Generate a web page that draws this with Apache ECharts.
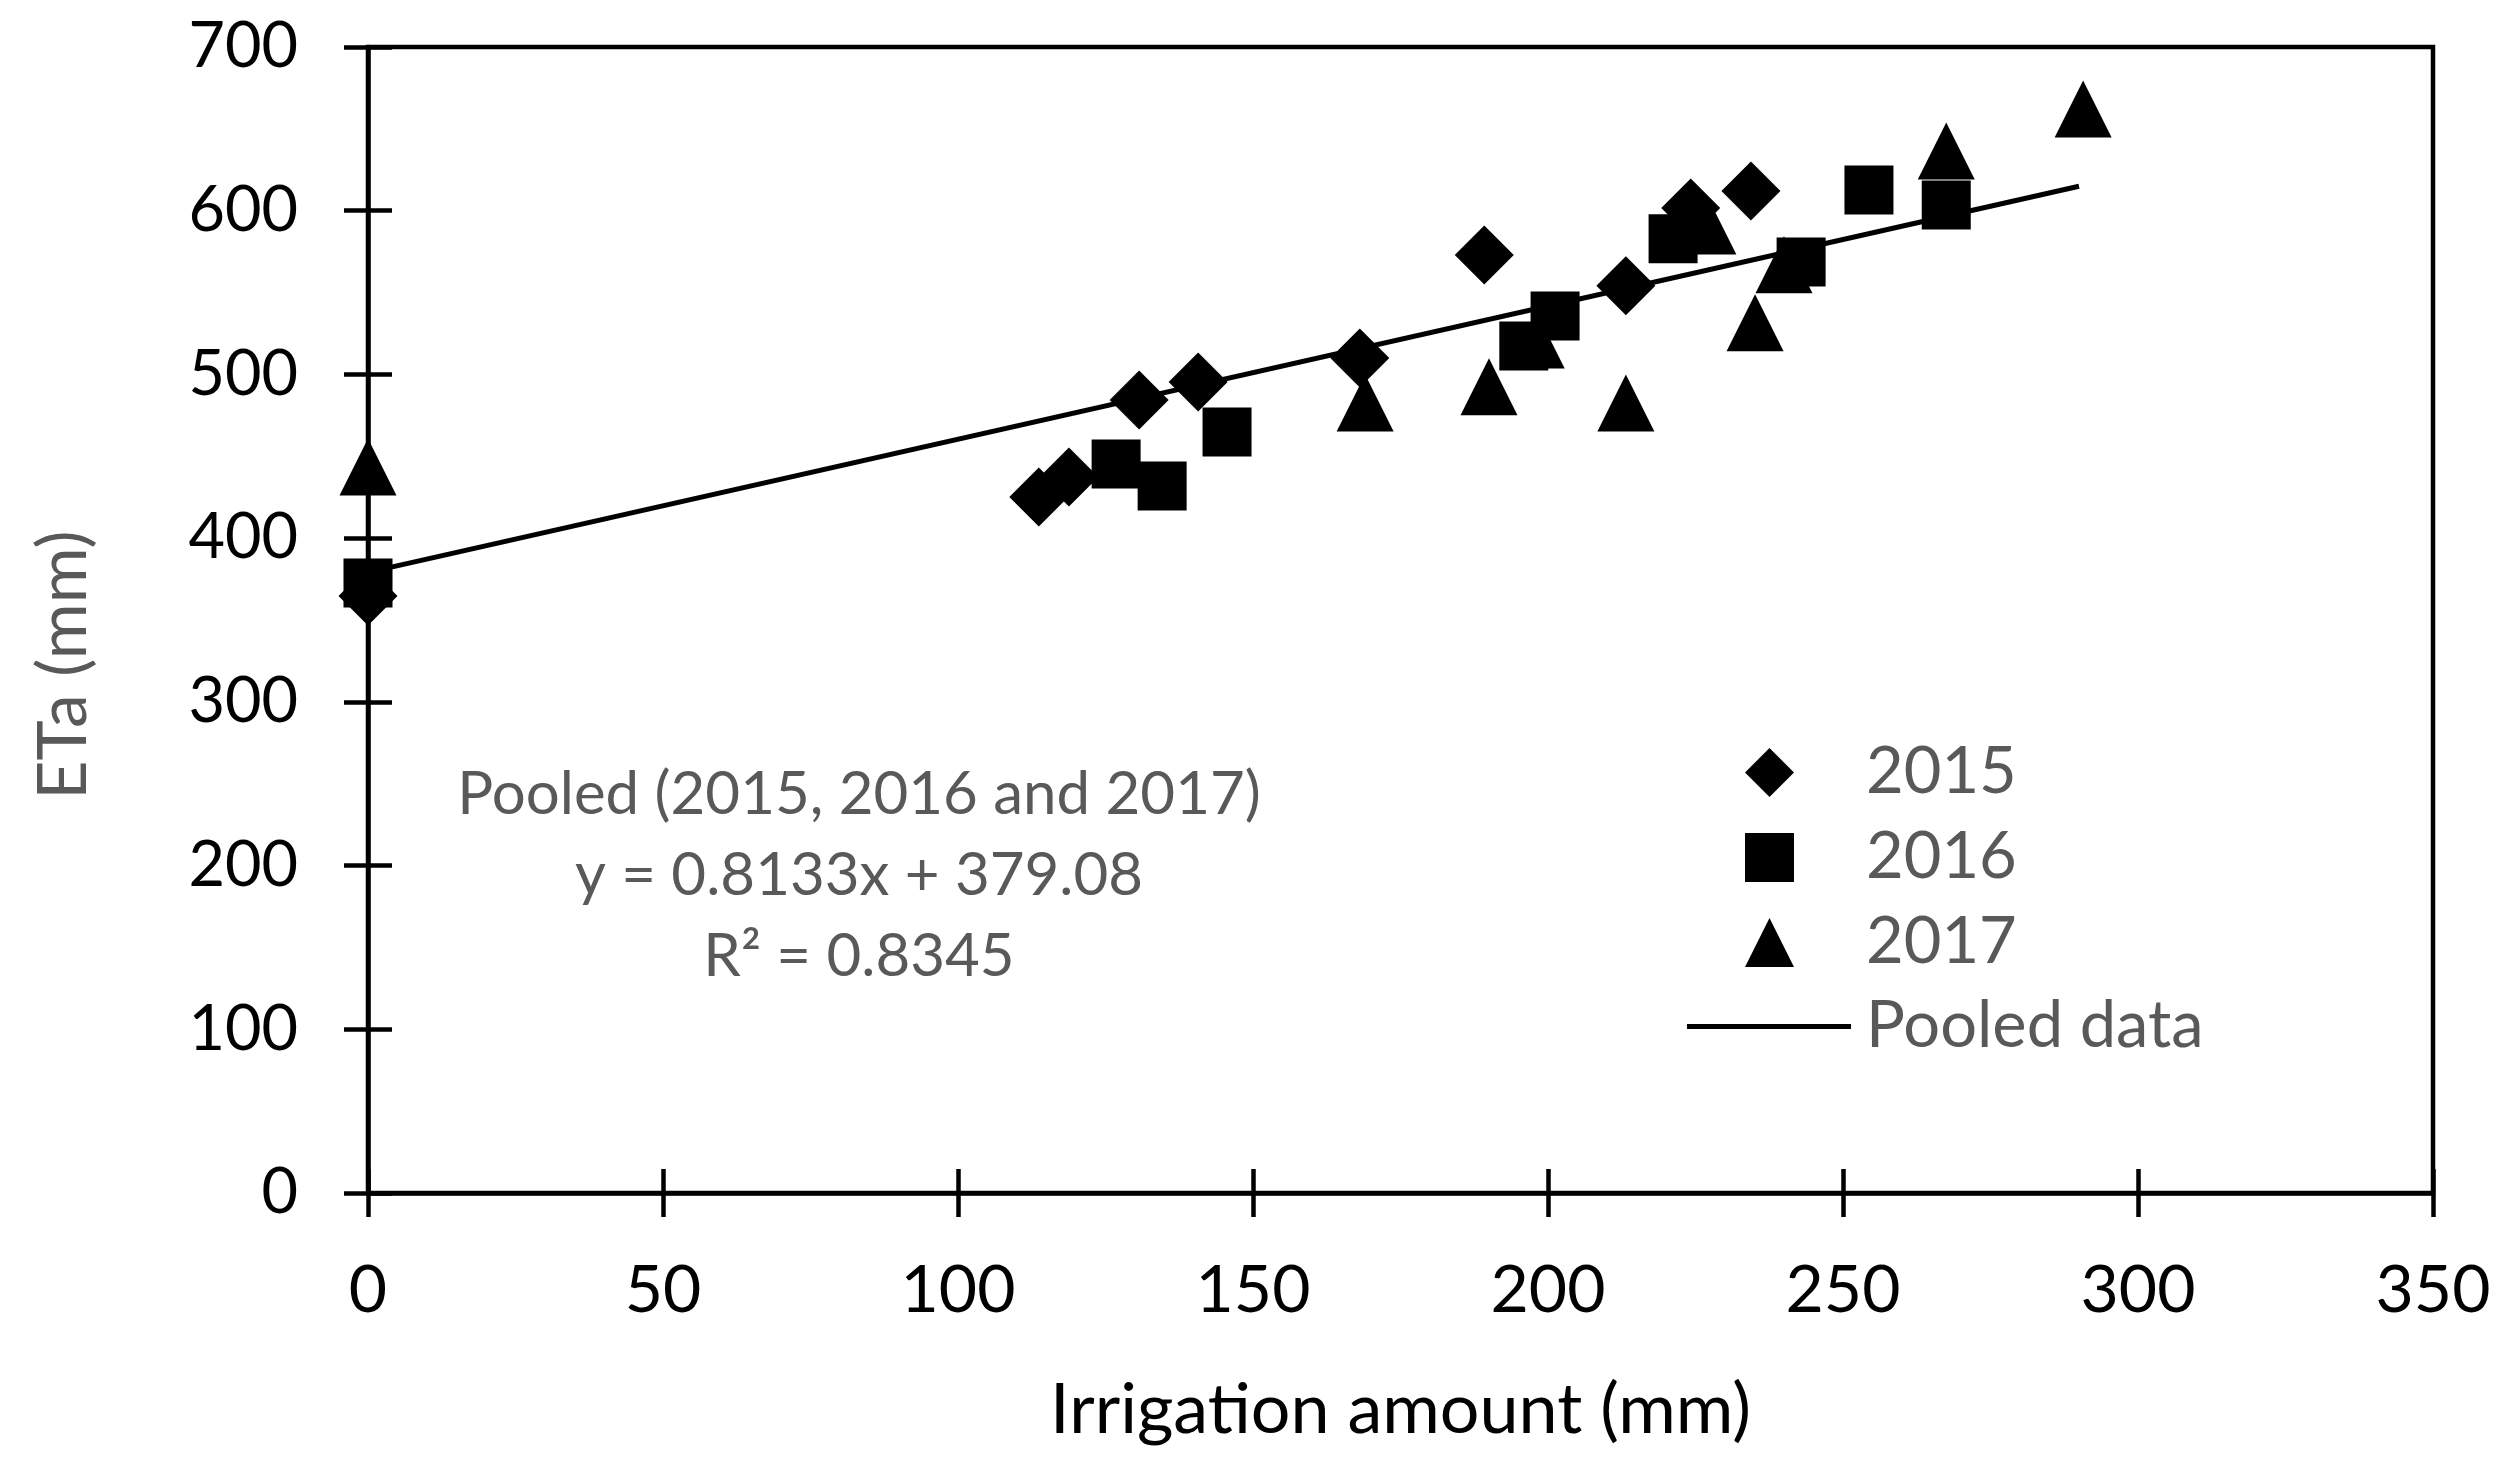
<!DOCTYPE html>
<html>
<head>
<meta charset="utf-8">
<title>ETa vs irrigation amount</title>
<script src="https://cdn.jsdelivr.net/npm/echarts@6/dist/echarts.min.js"></script>
<style>
  html, body { margin: 0; padding: 0; background: #fff; }
  #chart { width: 2520px; height: 1466px; }
</style>
</head>
<body>
<div id="chart"></div>
<script>
"use strict";

// irrigation amount (mm) and ETa (mm)
var irr2015 = [0, 113.7, 118.8, 130.7, 140.7, 168.1, 189.2, 213.2, 224.2, 234.4];
var eta2015 = [364.7, 425.2, 437.4, 484.4, 495.4, 510.0, 573.0, 554.1, 601.7, 612.1];

var irr2016 = [0, 126.8, 134.6, 145.6, 195.9, 201.2, 221.2, 242.9, 254.4, 267.5];
var eta2016 = [372.6, 445.3, 431.9, 464.9, 517.4, 535.7, 582.8, 568.7, 612.7, 603.5];

var irr2017 = [0, 169.0, 190.0, 198.0, 213.2, 227.1, 235.1, 240.0, 267.5, 290.7];
var eta2017 = [443.5, 482.6, 492.4, 521.0, 482.6, 590.7, 531.5, 567.0, 636.5, 662.2];

// pooled regression, drawn over the range of the data
var slope = 0.8133;
var intercept = 379.08;
var trendX = [0, 290];

var xTicks = [0, 50, 100, 150, 200, 250, 300, 350];
var yTicks = [0, 100, 200, 300, 400, 500, 600, 700];

var fitText = ["Pooled (2015, 2016 and 2017)", "y = 0.8133x + 379.08", "R\u00b2 = 0.8345"];

function pairs(xs, ys) {
    var out = [];
    for (var i = 0; i < xs.length; i++) out.push([xs[i], ys[i]]);
    return out;
}

var FONT = "Lato, 'Open Sans', sans-serif";
var GREY = "#595959";
var LW = 4.5;

function valueAxis(ticks, extra) {
    var ax = {
        type: "value",
        min: ticks[0],
        max: ticks[ticks.length - 1],
        interval: ticks[1] - ticks[0],
        splitLine: { show: false },
        axisLine: { show: true, lineStyle: { color: "#000", width: LW } },
        axisTick: { show: true, inside: false, length: 24, lineStyle: { color: "#000", width: LW } }
    };
    for (var k in extra) ax[k] = extra[k];
    return ax;
}

var chart = echarts.init(document.getElementById("chart"));

chart.setOption({
    animation: false,
    backgroundColor: "#fff",
    grid: {
        left: 368, right: 87, top: 47, bottom: 273,
        show: true, borderColor: "#000", borderWidth: LW,
        backgroundColor: "transparent"
    },
    xAxis: [
        valueAxis(xTicks, {
            position: "bottom",
            axisLabel: { margin: 65, fontSize: 66, color: "#000", fontFamily: FONT },
            name: "Irrigation amount (mm)",
            nameLocation: "middle",
            nameGap: 182,
            nameTextStyle: { fontSize: 70, color: "#000", fontFamily: FONT }
        }),
        valueAxis(xTicks, {
            position: "bottom",
            axisLine: { show: false },
            axisTick: { show: true, inside: true, length: 24, lineStyle: { color: "#000", width: LW } },
            axisLabel: { show: false }
        })
    ],
    yAxis: [
        valueAxis(yTicks, {
            position: "left",
            axisLabel: { margin: 70, fontSize: 63, color: "#000", fontFamily: FONT },
            name: "ETa (mm)",
            nameLocation: "middle",
            nameGap: 270,
            nameTextStyle: { fontSize: 68, color: GREY, fontFamily: FONT, padding: [0, 90, 0, 0] }
        }),
        valueAxis(yTicks, {
            position: "left",
            axisLine: { show: false },
            axisTick: { show: true, inside: true, length: 24, lineStyle: { color: "#000", width: LW } },
            axisLabel: { show: false }
        })
    ],
    legend: [
        {
            data: ["2015", "2016", "2017"],
            orient: "vertical",
            left: 1745, top: 740,
            padding: 0,
            itemWidth: 49, itemHeight: 49, itemGap: 20,
            textStyle: { fontSize: 65, color: GREY, fontFamily: FONT, padding: [0, 0, 0, 67] }
        },
        {
            data: [{ name: "Pooled data", icon: "rect" }],
            orient: "vertical",
            left: 1687, top: 994,
            padding: 0,
            itemWidth: 164, itemHeight: 5,
            textStyle: { fontSize: 65, color: GREY, fontFamily: FONT, padding: [0, 0, 0, 10] }
        }
    ],
    graphic: [{
        type: "text",
        x: 859, y: 754,
        style: {
            text: fitText.join("\n"),
            fontSize: 60,
            fontFamily: FONT,
            fill: GREY,
            align: "center",
            verticalAlign: "top",
            lineHeight: 81
        }
    }],
    series: [
        {
            name: "Pooled data",
            type: "line",
            data: trendX.map(function (x) { return [x, intercept + slope * x]; }),
            symbol: "none",
            lineStyle: { color: "#000", width: 5 },
            itemStyle: { color: "#000" },
            z: 1
        },
        {
            name: "2015",
            type: "scatter",
            symbol: "diamond",
            symbolSize: 59,
            data: pairs(irr2015, eta2015),
            itemStyle: { color: "#000", opacity: 1 },
            z: 2
        },
        {
            name: "2016",
            type: "scatter",
            symbol: "rect",
            symbolSize: 49,
            data: pairs(irr2016, eta2016),
            itemStyle: { color: "#000", opacity: 1 },
            z: 2
        },
        {
            name: "2017",
            type: "scatter",
            symbol: "triangle",
            symbolSize: 57,
            data: pairs(irr2017, eta2017),
            itemStyle: { color: "#000", opacity: 1 },
            z: 2
        }
    ]
});
</script>
</body>
</html>
